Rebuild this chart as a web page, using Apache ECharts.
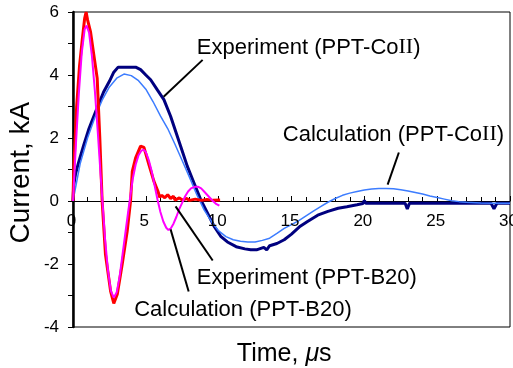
<!DOCTYPE html>
<html>
<head>
<meta charset="utf-8">
<script src="https://cdn.jsdelivr.net/npm/echarts@6/dist/echarts.min.js"></script>
<style>html,body{margin:0;padding:0;background:#fff}#c{width:513px;height:368px}</style>
</head>
<body>
<div id="c"></div>
<script>
// ---- data ----
const xTicks = [0, 5, 10, 15, 20, 25, 30];
const yTicks = [-4, -2, 0, 2, 4, 6];

// Experiment (PPT-CoII)
const expCoT = [0,0.05,0.17,0.4,0.74,1.1,1.55,2.1,2.5,2.8,3.1,3.5,4.0,4.3,4.64,5.0,5.33,5.79,6.24,6.7,6.93,7.39,7.85,8.3,8.76,9.22,9.68,10.14,10.6,11.2,11.8,12.2,12.6,13.1,13.3,13.5,14.0,14.5,15.0,15.6,16.1,16.8,17.5,18.2,18.8,19.5,19.9,20.0,20.1,22.8,22.95,23.1,28.7,28.9,29.1,30];
const expCoV = [0,0.5,0.85,1.25,1.78,2.3,2.83,3.46,3.8,4.09,4.25,4.25,4.25,4.25,4.17,4.0,3.85,3.53,3.22,2.69,2.37,1.74,1.1,0.58,0.05,-0.37,-0.8,-1.12,-1.3,-1.45,-1.52,-1.55,-1.55,-1.47,-1.55,-1.42,-1.35,-1.23,-1.05,-0.8,-0.65,-0.45,-0.33,-0.23,-0.18,-0.12,-0.08,0.02,-0.07,-0.07,-0.25,-0.07,-0.07,-0.25,-0.07,-0.07];

// Calculation (PPT-CoII)
const calCoT = [0,0.5,1,1.5,2,2.5,3,3.5,4,4.5,5,5.5,6,6.5,7,7.5,8,8.5,9,9.5,10,10.5,11,11.5,12,12.5,13,13.5,14,14.5,15,15.5,16,16.5,17,17.5,18,18.5,19,19.5,20,20.5,21,21.5,22,22.5,23,23.5,24,24.5,25,25.5,26,26.5,27,28,29,30];
const calCoV = [0,1.2,2.0,2.65,3.2,3.62,3.9,4.03,3.98,3.82,3.55,3.15,2.7,2.3,1.8,1.28,0.75,0.2,-0.28,-0.65,-0.95,-1.13,-1.23,-1.28,-1.3,-1.3,-1.25,-1.18,-1.03,-0.87,-0.75,-0.62,-0.47,-0.32,-0.18,-0.04,0.08,0.18,0.25,0.3,0.35,0.38,0.4,0.4,0.39,0.36,0.32,0.27,0.22,0.16,0.11,0.06,0.01,-0.02,-0.04,-0.06,-0.07,-0.07];

// Experiment (PPT-B20)
const expB20T = [0,0.05,0.12,0.25,0.45,0.63,0.8,0.9,1.0,1.2,1.43,1.66,1.84,2.0,2.23,2.58,2.8,3.04,3.38,3.72,3.95,4.07,4.3,4.64,4.87,5.21,5.55,5.83,5.9,5.95,6.1,6.3,6.5,6.7,6.9,7.0,7.3,7.5,7.8,8.0,8.4,8.8,9.2,9.6,10.1];
const expB20V = [0,1.0,1.7,3.0,4.3,5.1,5.8,6.0,5.75,5.38,4.64,3.9,2.0,0,-1.7,-2.86,-3.25,-2.96,-2.0,-0.96,0,0.94,1.37,1.74,1.7,1.16,0.63,0.31,0.25,0.12,0.18,0.1,0.2,0.08,0.15,0.03,0.1,0.03,0.08,0.02,0.06,0.02,0.05,0.02,0.03];

// Calculation (PPT-B20)
const calB20T = [0,0.2,0.4,0.6,0.8,0.93,1.1,1.3,1.5,1.7,1.9,2.05,2.2,2.4,2.6,2.8,3.0,3.2,3.4,3.6,3.8,3.95,4.1,4.3,4.5,4.7,4.85,5.0,5.2,5.4,5.6,5.8,6.0,6.2,6.4,6.55,6.7,6.9,7.1,7.3,7.5,7.7,7.9,8.1,8.35,8.6,8.8,9.0,9.3,9.6,9.85,10.05];
const calB20V = [0,1.8,3.4,4.7,5.45,5.57,5.35,4.6,3.5,2.2,0.8,-0.2,-1.2,-2.2,-2.85,-3.07,-2.9,-2.4,-1.7,-1.0,-0.3,0.2,0.7,1.15,1.45,1.6,1.63,1.55,1.3,0.95,0.5,0.05,-0.35,-0.65,-0.85,-0.92,-0.88,-0.72,-0.5,-0.25,-0.05,0.15,0.3,0.4,0.45,0.45,0.4,0.3,0.15,0.0,-0.1,-0.15];

const annotations = [
  {text: '{a|Experiment (PPT-Co}{r|II}{a|)}', t: 8.5, v: 4.87, from: [8.9, 4.48], to: [6.22, 3.31]},
  {text: '{a|Calculation (PPT-Co}{r|II}{a|)}', t: 14.4, v: 2.11, from: [22.37, 1.54], to: [21.6, 0.52]},
  {text: '{a|Experiment (PPT-B20)}', t: 8.5, v: -2.43, from: [9.59, -1.89], to: [7.04, -0.17]},
  {text: '{a|Calculation (PPT-B20)}', t: 4.2, v: -3.45, from: [7.94, -2.87], to: [6.7, -0.9]}
];

// ---- chart ----
const zip = (a, b) => a.map((x, i) => [x, b[i]]);
const FONT = '"Liberation Sans", Arial, Helvetica, sans-serif';
const chart = echarts.init(document.getElementById('c'), null, {renderer: 'canvas'});

const lineSeries = (name, t, v, color, width) => ({
  name, type: 'line', data: zip(t, v), showSymbol: false, symbol: 'none',
  lineStyle: {color, width}, itemStyle: {color}, animation: false, silent: true
});

chart.setOption({
  animation: false,
  grid: {left: 73, top: 12, right: 3, bottom: 41, show: true, borderColor: '#000', borderWidth: 1,
         backgroundColor: 'transparent', containLabel: false, outerBoundsMode: 'none'},
  xAxis: {
    type: 'value', min: 0, max: 30, interval: 5,
    axisLine: {onZero: true, lineStyle: {color: '#000', width: 1}},
    axisTick: {show: true, inside: true, length: 5, lineStyle: {color: '#000'}},
    minorTick: {show: true, splitNumber: 5, length: 4, lineStyle: {color: '#000'}},
    splitLine: {show: false},
    axisLabel: {show: false}
  },
  yAxis: {
    type: 'value', min: -4, max: 6, interval: 2,
    axisLine: {show: true, onZero: false, lineStyle: {color: '#000', width: 2.5}},
    axisTick: {show: true, inside: false, length: 5, lineStyle: {color: '#000', width: 1}},
    minorTick: {show: true, splitNumber: 2, length: 5, lineStyle: {color: '#000'}},
    splitLine: {show: false},
    axisLabel: {color: '#000', fontSize: 17, fontFamily: FONT, margin: 14}
  },
  series: [
    lineSeries('Experiment (PPT-CoII)', expCoT, expCoV, '#00007f', 3),
    lineSeries('Calculation (PPT-CoII)', calCoT, calCoV, '#3c7cff', 1.5),
    lineSeries('Experiment (PPT-B20)', expB20T, expB20V, '#ff0000', 3),
    lineSeries('Calculation (PPT-B20)', calB20T, calB20V, '#ff00ff', 2)
  ]
});

const px = (t, v) => chart.convertToPixel({gridIndex: 0}, [t, v]);
const graphics = [];
// x tick labels just under the zero line
xTicks.forEach(t => {
  const p = px(t, 0);
  graphics.push({type: 'text', x: p[0] - 1.5, y: p[1] + 20, z: 99, silent: true, style: {
    text: String(t), textAlign: 'center', textVerticalAlign: 'middle', fontSize: 17, fontFamily: FONT, fill: '#000'
  }});
});
annotations.forEach(a => {
  const p = px(a.t, a.v), f = px(a.from[0], a.from[1]), q = px(a.to[0], a.to[1]);
  graphics.push({type: 'line', shape: {x1: f[0], y1: f[1], x2: q[0], y2: q[1]}, style: {stroke: '#000', lineWidth: 2}, z: 100, silent: true});
  graphics.push({type: 'text', x: p[0], y: p[1], z: 101, silent: true, style: {
    text: a.text, textAlign: 'left', textVerticalAlign: 'middle',
    rich: {a: {fontSize: 22, fontFamily: FONT, fill: '#000'}, r: {fontSize: 22, fontFamily: '"Liberation Serif", "Times New Roman", serif', fill: '#000'}}
  }});
});
// x axis title, centred under the plot
const mid = px(14.5, -4);
graphics.push({type: 'text', x: mid[0], y: mid[1] + 27, z: 101, silent: true, style: {
  text: '{a|Time, }{b|μ}{a|s}', textAlign: 'center', textVerticalAlign: 'middle',
  rich: {a: {fontSize: 25, fontFamily: FONT, fill: '#000'}, b: {fontSize: 25, fontFamily: FONT, fontStyle: 'italic', fill: '#000'}}
}});
// y axis title, rotated, left of the tick labels
const ymid = px(0, 0.9);
graphics.push({type: 'text', x: ymid[0] - 52, y: ymid[1], rotation: Math.PI / 2, z: 101, silent: true, style: {
  text: 'Current, kA', textAlign: 'center', textVerticalAlign: 'middle', fontSize: 28, fontFamily: FONT, fill: '#000'
}});
chart.setOption({graphic: graphics});
</script>
</body>
</html>
